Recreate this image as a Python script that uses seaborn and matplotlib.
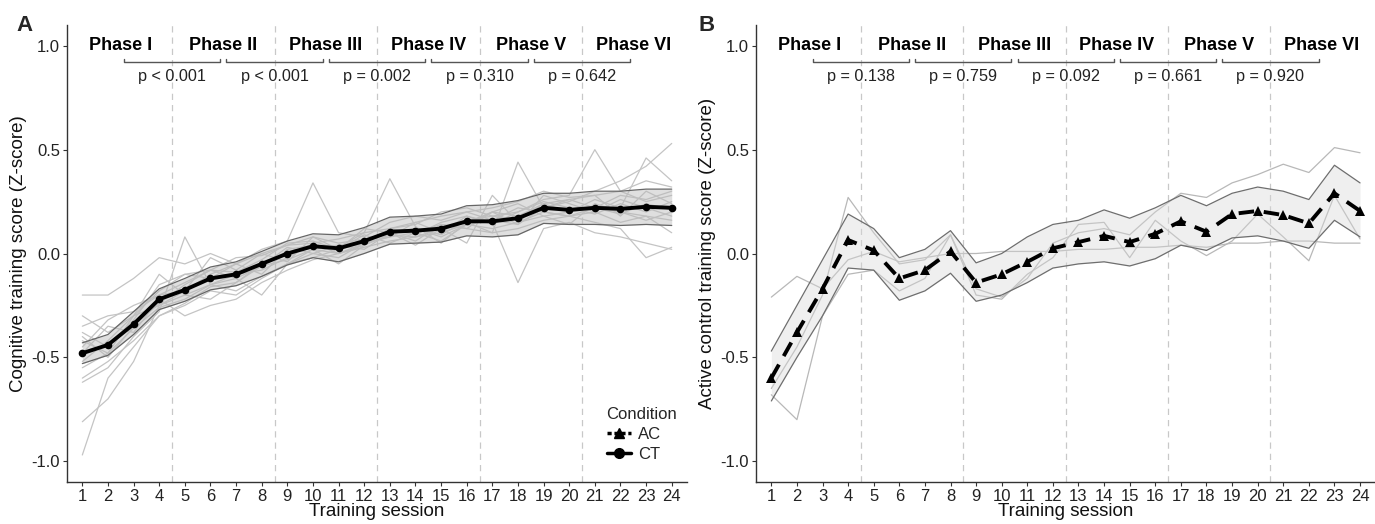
import numpy as np
import pandas as pd
import matplotlib
matplotlib.use("Agg")
import matplotlib.pyplot as plt
from matplotlib.lines import Line2D
import seaborn as sns

# ---------------- data ----------------
sessions = list(range(1, 25))
phases = ["Phase I", "Phase II", "Phase III", "Phase IV", "Phase V", "Phase VI"]
phase_centers = [2.5, 6.5, 10.5, 14.5, 18.5, 22.5]
phase_bounds = [4.5, 8.5, 12.5, 16.5, 20.5]
p_ct = ["p < 0.001", "p < 0.001", "p = 0.002", "p = 0.310", "p = 0.642"]
p_ac = ["p = 0.138", "p = 0.759", "p = 0.092", "p = 0.661", "p = 0.920"]

ct_mean = [-0.48, -0.44, -0.34, -0.22, -0.175, -0.12, -0.10, -0.05, 0.0, 0.035, 0.025, 0.06,
           0.105, 0.11, 0.12, 0.155, 0.155, 0.17, 0.22, 0.21, 0.22, 0.215, 0.225, 0.22]
ct_upper = [-0.43, -0.39, -0.28, -0.17, -0.12, -0.065, -0.04, 0.01, 0.06, 0.095, 0.09, 0.125,
            0.175, 0.18, 0.19, 0.23, 0.235, 0.255, 0.29, 0.29, 0.30, 0.30, 0.31, 0.31]
ct_lower = [-0.53, -0.49, -0.39, -0.27, -0.23, -0.175, -0.155, -0.11, -0.055, -0.02, -0.04, 0.0,
            0.045, 0.05, 0.055, 0.085, 0.08, 0.09, 0.145, 0.14, 0.14, 0.135, 0.14, 0.135]

ac_mean = [-0.60, -0.38, -0.17, 0.065, 0.015, -0.12, -0.08, 0.01, -0.14, -0.10, -0.04, 0.025,
           0.055, 0.085, 0.055, 0.095, 0.155, 0.105, 0.19, 0.205, 0.185, 0.145, 0.29, 0.205]
ac_upper = [-0.47, -0.25, -0.03, 0.19, 0.12, -0.02, 0.02, 0.11, -0.045, 0.0, 0.08, 0.14,
            0.16, 0.21, 0.17, 0.22, 0.28, 0.23, 0.29, 0.32, 0.30, 0.26, 0.425, 0.34]
ac_lower = [-0.71, -0.50, -0.30, -0.07, -0.08, -0.225, -0.18, -0.095, -0.23, -0.20, -0.14, -0.07,
            -0.05, -0.04, -0.06, -0.025, 0.04, 0.015, 0.075, 0.085, 0.06, 0.025, 0.16, 0.08]

# individual participants, cognitive training
ct_p1 = [-0.97, -0.60, -0.45, -0.30, -0.25, -0.18, -0.20, -0.12, -0.05, 0.00, -0.02, 0.05, 0.08, 0.10, 0.06, 0.14, 0.12, 0.15, 0.20, 0.18, 0.22, 0.20, 0.18, 0.16]
ct_p2 = [-0.81, -0.70, -0.52, -0.25, -0.20, -0.15, -0.10, -0.08, -0.02, 0.05, 0.00, 0.04, 0.12, 0.09, 0.15, 0.18, 0.14, 0.20, 0.25, 0.22, 0.19, 0.24, 0.20, 0.25]
ct_p3 = [-0.20, -0.20, -0.12, -0.02, -0.05, 0.00, -0.05, 0.02, 0.06, 0.34, 0.10, 0.08, 0.15, 0.18, 0.16, 0.20, 0.22, 0.25, 0.30, 0.27, 0.28, 0.30, 0.35, 0.32]
ct_p4 = [-0.38, -0.45, -0.32, -0.15, -0.10, -0.08, -0.02, -0.01, 0.04, 0.05, 0.07, 0.10, 0.36, 0.13, 0.05, 0.15, 0.20, 0.18, 0.24, 0.26, 0.22, 0.28, 0.26, 0.30]
ct_p5 = [-0.62, -0.55, -0.40, -0.28, 0.08, -0.15, -0.12, -0.06, -0.03, 0.02, 0.00, 0.03, 0.06, 0.08, 0.12, 0.05, 0.28, 0.15, 0.18, 0.20, 0.22, 0.19, 0.24, 0.21]
ct_p6 = [-0.45, -0.32, -0.25, -0.20, -0.18, -0.10, -0.05, 0.00, -0.04, 0.08, 0.05, 0.07, 0.10, 0.06, 0.14, 0.12, 0.10, 0.44, 0.22, 0.25, 0.30, 0.35, 0.42, 0.53]
ct_p7 = [-0.55, -0.48, -0.36, -0.26, -0.22, -0.15, -0.18, -0.11, -0.05, -0.02, 0.02, 0.05, 0.08, 0.15, 0.10, 0.18, 0.15, -0.14, 0.12, 0.15, 0.10, 0.08, 0.05, 0.02]
ct_p8 = [-0.30, -0.38, -0.30, -0.18, -0.10, -0.12, -0.05, -0.10, 0.02, 0.04, 0.03, 0.10, 0.12, 0.14, 0.20, 0.22, 0.18, 0.20, 0.26, 0.28, 0.50, 0.30, 0.25, 0.28]
ct_p9 = [-0.40, -0.50, -0.35, -0.24, -0.15, -0.08, -0.12, -0.20, -0.05, 0.02, -0.05, 0.04, 0.09, 0.08, 0.10, 0.14, 0.16, 0.22, 0.20, 0.18, 0.15, 0.12, -0.02, 0.03]
ct_p10 = [-0.52, -0.42, -0.30, -0.10, -0.20, -0.22, -0.14, -0.06, 0.03, 0.00, 0.04, 0.02, 0.10, 0.12, 0.09, 0.16, 0.18, 0.16, 0.24, 0.20, 0.26, 0.22, 0.46, 0.35]
ct_p11 = [-0.35, -0.30, -0.28, -0.20, -0.14, -0.08, -0.09, -0.03, 0.05, 0.06, 0.02, 0.09, 0.05, 0.10, 0.14, 0.12, 0.20, 0.14, 0.28, 0.24, 0.20, 0.26, 0.22, 0.18]
ct_p12 = [-0.60, -0.52, -0.42, -0.30, -0.24, -0.16, -0.14, -0.05, 0.00, 0.03, 0.04, 0.06, 0.10, 0.04, 0.12, 0.15, 0.10, 0.12, 0.16, 0.18, 0.20, 0.15, 0.18, 0.10]
ct_p13 = [-0.48, -0.35, -0.38, -0.22, -0.30, -0.25, -0.22, -0.14, -0.08, -0.03, 0.00, 0.05, 0.12, 0.15, 0.18, 0.20, 0.16, 0.14, 0.22, 0.26, 0.28, 0.18, 0.30, 0.24]
ct_p14 = [-0.42, -0.48, -0.30, -0.25, -0.18, -0.02, -0.08, 0.00, 0.04, 0.08, 0.02, 0.12, 0.10, 0.12, 0.08, 0.14, 0.20, 0.24, 0.18, 0.14, 0.24, 0.20, 0.16, 0.20]

# individual participants, active control
ac_p1 = [-0.21, -0.11, -0.17, -0.03, 0.01, -0.04, -0.02, 0.00, 0.00, 0.01, 0.01, 0.01, 0.02, 0.02, 0.03, 0.03, 0.04, 0.03, 0.05, 0.05, 0.06, 0.06, 0.05, 0.05]
ac_p2 = [-0.65, -0.45, -0.20, 0.27, 0.10, -0.05, -0.03, 0.09, -0.17, -0.21, -0.12, 0.05, 0.10, 0.12, 0.09, 0.20, 0.29, 0.27, 0.34, 0.38, 0.43, 0.39, 0.51, 0.485]
ac_p3 = [-0.68, -0.80, -0.30, -0.10, -0.08, -0.18, -0.12, 0.09, -0.20, -0.22, -0.10, -0.02, 0.14, 0.15, -0.02, 0.16, 0.06, -0.01, 0.06, 0.19, 0.08, -0.035, 0.28, 0.07]

ct_people = [ct_p1, ct_p2, ct_p3, ct_p4, ct_p5, ct_p6, ct_p7, ct_p8, ct_p9, ct_p10, ct_p11, ct_p12, ct_p13, ct_p14]
ac_people = [ac_p1, ac_p2, ac_p3]

yticks = [-1.0, -0.5, 0.0, 0.5, 1.0]
ytick_labels = ["-1.0", "-0.5", "0.0", "0.5", "1.0"]


def long_df(people):
    rows = []
    for i, vals in enumerate(people):
        for s, v in zip(sessions, vals):
            rows.append({"id": i, "session": s, "score": v})
    return pd.DataFrame(rows)


# ---------------- style ----------------
sns.set_theme(style="ticks")
plt.rcParams["font.family"] = ["Liberation Sans", "DejaVu Sans"]
plt.rcParams["axes.linewidth"] = 1.0

fig = plt.figure(figsize=(13.75, 5.24), dpi=100)
axA = fig.add_axes([0.0487, 0.0802, 0.451, 0.872])
axB = fig.add_axes([0.5498, 0.0802, 0.4505, 0.872])


def decorate(ax, pvals, ylabel):
    for b in phase_bounds:
        ax.axvline(b, color="#c8c8c8", lw=0.9, ls=(0, (5, 4)), zorder=0)
    for c, name in zip(phase_centers, phases):
        ax.text(c, 1.0, name, ha="center", va="center", fontsize=13, fontweight="bold", color="black")
    for i, p in enumerate(pvals):
        x0 = phase_centers[i] + 0.12
        x1 = phase_centers[i + 1] - 0.12
        ax.plot([x0, x0, x1, x1], [0.935, 0.92, 0.92, 0.935], color="#555555", lw=1.0)
        ax.text(phase_bounds[i], 0.85, p, ha="center", va="center", fontsize=11.7, color="#222222")
    ax.set_xlim(0.4, 24.6)
    ax.set_ylim(-1.1, 1.1)
    ax.set_xticks(sessions)
    ax.set_xticklabels([str(s) for s in sessions])
    ax.set_yticks(yticks)
    ax.set_yticklabels(ytick_labels)
    ax.tick_params(axis="both", labelsize=12, colors="#333333", length=3, width=0.8, pad=2)
    for lab in ax.get_xticklabels() + ax.get_yticklabels():
        lab.set_color("#222222")
    ax.set_xlabel("Training session", fontsize=13.5, labelpad=-1, color="#111111")
    ax.set_ylabel(ylabel, fontsize=13.5, labelpad=3, color="#111111")
    sns.despine(ax=ax)
    ax.spines["left"].set_color("#333333")
    ax.spines["bottom"].set_color("#333333")


# ---------------- panel A ----------------
dfA = long_df(ct_people)
sns.lineplot(data=dfA, x="session", y="score", units="id", estimator=None,
             color="#c4c4c4", lw=0.9, ax=axA, legend=False, zorder=1)
axA.fill_between(sessions, ct_lower, ct_upper, color="#b8b8b8", alpha=0.45, lw=0, zorder=2)
axA.plot(sessions, ct_upper, color="#666666", lw=0.9, zorder=3)
axA.plot(sessions, ct_lower, color="#666666", lw=0.9, zorder=3)
sns.lineplot(x=sessions, y=ct_mean, color="black", lw=2.8, marker="o", markersize=5.5,
             markeredgewidth=0, ax=axA, zorder=4)
decorate(axA, p_ct, "Cognitive training score (Z-score)")

handles = [
    Line2D([], [], color="black", lw=2.5, ls=(0, (1.2, 0.8)), marker="^", markersize=7),
    Line2D([], [], color="black", lw=2.5, ls="-", marker="o", markersize=7),
]
leg = axA.legend(handles, ["AC", "CT"], title="Condition", loc="lower right",
                 bbox_to_anchor=(1.003, 0.018), frameon=False, fontsize=12,
                 title_fontsize=12, handlelength=1.45, handletextpad=0.45,
                 labelspacing=0.3, borderpad=0.2)
leg._legend_box.align = "left"

# ---------------- panel B ----------------
dfB = long_df(ac_people)
sns.lineplot(data=dfB, x="session", y="score", units="id", estimator=None,
             color="#b8b8b8", lw=0.9, ax=axB, legend=False, zorder=1)
axB.fill_between(sessions, ac_lower, ac_upper, color="#d8d8d8", alpha=0.4, lw=0, zorder=2)
axB.plot(sessions, ac_upper, color="#6e6e6e", lw=0.9, zorder=3)
axB.plot(sessions, ac_lower, color="#6e6e6e", lw=0.9, zorder=3)
sns.lineplot(x=sessions, y=ac_mean, color="black", lw=2.8, marker="^", markersize=7,
             markeredgewidth=0, ax=axB, zorder=4, linestyle=(0, (4, 2.5)))
decorate(axB, p_ac, "Active control training score (Z-score)")

fig.text(0.018, 0.952, "A", fontsize=16, fontweight="bold", ha="center", va="center")
fig.text(0.514, 0.952, "B", fontsize=16, fontweight="bold", ha="center", va="center")

fig.savefig("out.png", dpi=100)
